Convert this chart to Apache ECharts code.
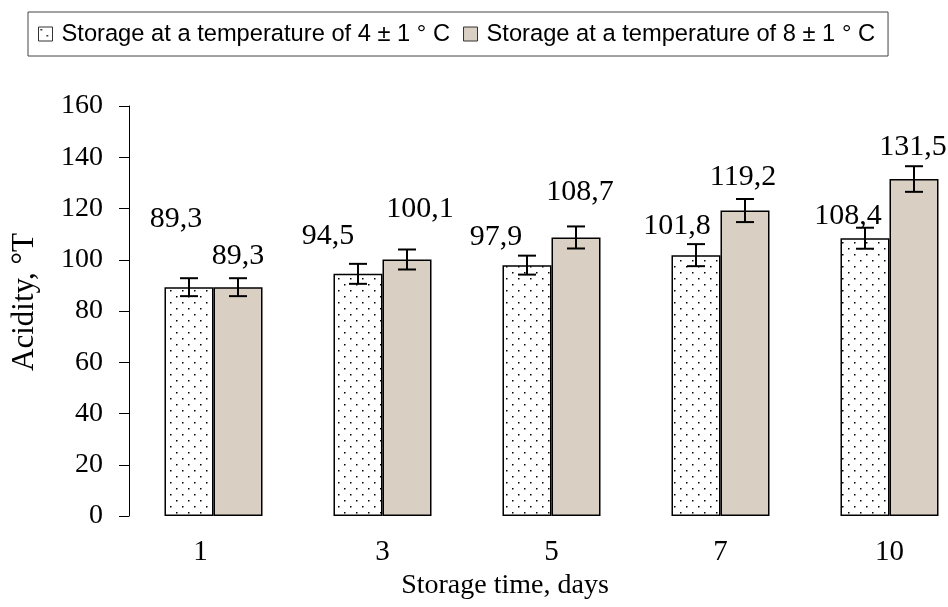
<!DOCTYPE html>
<html><head><meta charset="utf-8">
<script src="https://cdn.jsdelivr.net/npm/echarts@6/dist/echarts.min.js"></script>
<style>html,body{margin:0;padding:0;background:#fff}#c{width:948px;height:607px}</style>
</head><body><div id="c"></div>
<script>
// ---- data ----
const categories = ['1', '3', '5', '7', '10'];
const seriesNames = ['Storage at a temperature of 4 ± 1 ° C', 'Storage at a temperature of 8 ± 1 ° C'];
const acidity4 = [89.3, 94.5, 97.9, 101.8, 108.4];
const acidity8 = [89.3, 100.1, 108.7, 119.2, 131.5];
const error4 = [3.5, 3.9, 3.7, 4.3, 4.1];
const error8 = [3.5, 3.9, 4.3, 4.5, 5.0];
const yTicks = [0, 20, 40, 60, 80, 100, 120, 140, 160];

// ---- styling (label offsets in px) ----
const labelOffset4 = [[-13, -53], [-30, -23], [-31, -13], [-19, -14], [-17, -7]];
const labelOffset8 = [[0, -16], [13, -35], [4, -30], [-2, -18], [-1, -17]];
const xLabelShift = [-13, 0, 0, 0, 0];
const GAP = 0.42;
const serif = '"Liberation Serif","Times New Roman",serif';
const sans = '"Liberation Sans",Arial,sans-serif';

function dotPattern() {
  const c = document.createElement('canvas');
  c.width = 12; c.height = 12;
  const g = c.getContext('2d');
  g.fillStyle = '#fff'; g.fillRect(0, 0, 12, 12);
  g.fillStyle = '#000';
  g.fillRect(2, 2, 1.5, 1.5);
  g.fillRect(8, 8, 1.5, 1.5);
  return c;
}
const dotFill = { image: dotPattern(), repeat: 'repeat' };
const beige = '#d9d0c3';

function fmt(v) { return String(v).replace('.', ','); }

function barData(vals, offs) {
  return vals.map((v, i) => ({ value: v, label: { offset: offs[i] } }));
}
function errData(vals, errs) {
  return vals.map((v, i) => [i, v - errs[i], v + errs[i]]);
}
function errRender(side) {
  return function (params, api) {
    const band = api.size([1, 0])[0];
    const bw = band * (1 - GAP) / 2;
    const cx = api.coord([api.value(0), 0])[0] + side * bw / 2;
    const lo = api.coord([api.value(0), api.value(1)])[1];
    const hi = api.coord([api.value(0), api.value(2)])[1];
    const cap = 9;
    const st = { stroke: '#000', lineWidth: 2 };
    return {
      type: 'group',
      children: [
        { type: 'line', shape: { x1: cx, y1: lo, x2: cx, y2: hi }, style: st },
        { type: 'line', shape: { x1: cx - cap, y1: lo, x2: cx + cap, y2: lo }, style: st },
        { type: 'line', shape: { x1: cx - cap, y1: hi, x2: cx + cap, y2: hi }, style: st }
      ]
    };
  };
}

const rich = {};
xLabelShift.forEach((d, i) => {
  rich['s' + i] = {
    fontFamily: serif, fontSize: 29, color: '#000',
    padding: d >= 0 ? [0, 0, 0, 2 * d] : [0, -2 * d, 0, 0]
  };
});

const labelStyle = {
  show: true, position: 'top', distance: 0,
  fontFamily: serif, fontSize: 30, color: '#000', lineHeight: 30,
  formatter: p => fmt(p.value)
};

const chart = echarts.init(document.getElementById('c'), null, { renderer: 'canvas' });
chart.setOption({
  animation: false,
  backgroundColor: '#fff',
  legend: {
    data: seriesNames,
    left: 28, top: 12,
    orient: 'horizontal',
    padding: [10, 13, 10, 10],
    itemGap: 13,
    itemWidth: 14, itemHeight: 14,
    icon: 'rect',
    itemStyle: { borderColor: '#333', borderWidth: 1 },
    borderColor: '#444', borderWidth: 1,
    selectedMode: false,
    textStyle: { fontFamily: sans, fontSize: 23.7, lineHeight: 24, color: '#000', padding: [0, 0, 0, 4] }
  },
  grid: { left: 129, width: 845, top: 106, bottom: 91, containLabel: false, outerBoundsMode: 'none' },
  xAxis: {
    type: 'category',
    data: categories,
    axisLine: { show: false },
    axisTick: { show: false },
    axisLabel: {
      margin: 22,
      formatter: (v, i) => '{s' + i + '|' + v + '}',
      rich: rich
    },
    name: 'Storage time, days',
    nameLocation: 'middle',
    nameGap: 55,
    nameTextStyle: { fontFamily: serif, fontSize: 28, color: '#000', padding: [0, 93, 0, 0] }
  },
  yAxis: {
    type: 'value',
    min: yTicks[0], max: yTicks[yTicks.length - 1], interval: 20,
    axisLine: { show: true, lineStyle: { color: '#000', width: 1 } },
    axisTick: { show: true, inside: false, length: 10, lineStyle: { color: '#000' } },
    splitLine: { show: false },
    axisLabel: { fontFamily: serif, fontSize: 28, color: '#000', margin: 26 },
    name: 'Acidity, °T',
    nameLocation: 'middle',
    nameGap: 89,
    nameTextStyle: { fontFamily: serif, fontSize: 31, color: '#000', padding: [0, 0, 0, 18] }
  },
  series: [
    {
      name: seriesNames[0], type: 'bar',
      data: barData(acidity4, labelOffset4),
      barGap: '0%', barCategoryGap: (GAP * 100) + '%',
      itemStyle: { color: dotFill, borderColor: '#000', borderWidth: 1.5 },
      label: labelStyle
    },
    {
      name: seriesNames[1], type: 'bar',
      data: barData(acidity8, labelOffset8),
      barGap: '0%', barCategoryGap: (GAP * 100) + '%',
      itemStyle: { color: beige, borderColor: '#000', borderWidth: 1.5 },
      label: labelStyle
    },
    {
      type: 'custom', name: 'err4', renderItem: errRender(-1),
      data: errData(acidity4, error4), z: 10, encode: { x: 0, y: [1, 2] }
    },
    {
      type: 'custom', name: 'err8', renderItem: errRender(1),
      data: errData(acidity8, error8), z: 10, encode: { x: 0, y: [1, 2] }
    }
  ]
});
</script>
</body></html>
